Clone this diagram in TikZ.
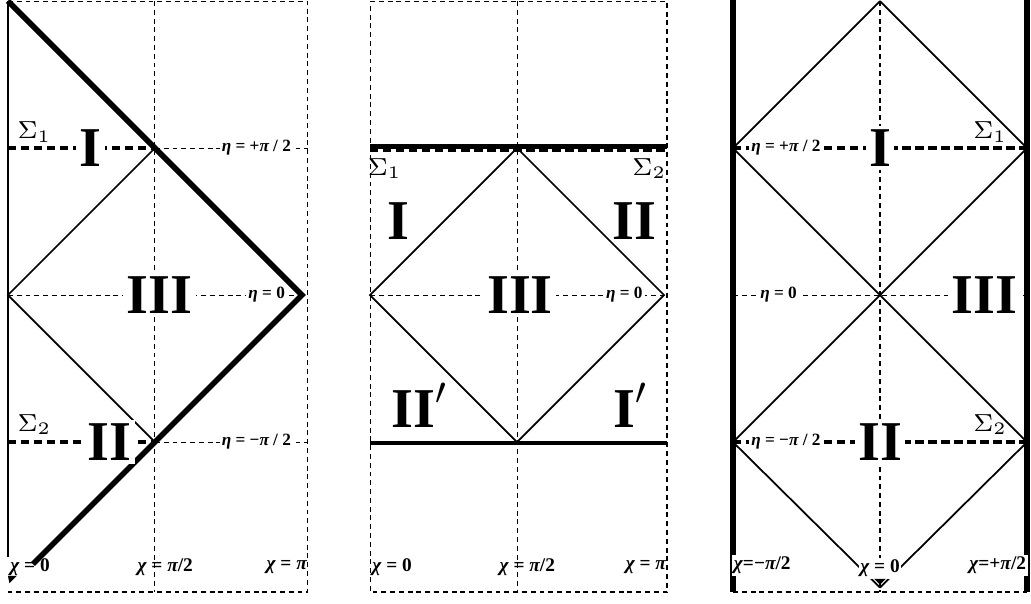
\documentclass[tikz,border=0pt]{standalone}
\usepackage{fontspec}
\setmainfont{Liberation Serif}
\tikzset{
  grid line/.style={line width=0.3pt, dash pattern=on 1.4pt off 1.1pt},
  slice/.style={line width=0.9pt, dash pattern=on 2.4pt off 1.3pt},
  cone/.style={line width=0.5pt},
  wall/.style={line width=1.6pt},
  region/.style={font=\fontsize{16}{16}\selectfont\bfseries, inner sep=1pt},
  cut region/.style={region, fill=white},
  tag/.style={font=\fontsize{4.9}{6}\selectfont\bfseries, fill=white, inner sep=0.6pt},
  chilabel/.style={font=\fontsize{5.5}{6}\selectfont\bfseries, inner sep=0.5pt},
  surf/.style={font=\fontsize{7.5}{8}\selectfont, inner sep=0pt},
}
\newcommand{\etaval}[1]{{\itshape η} = #1}
\newcommand{\chival}[1]{{\itshape χ} = #1}
\newcommand{\gpi}{{\itshape π}}
\begin{document}
\begin{tikzpicture}[x=1.47cm, y=1.47cm]
  \useasboundingbox (-0.054,2.007) rectangle (6.959,-2.095);

  % ---- Left diagram ----
  \begin{scope}
    \coordinate (L1) at (0,0);
    \coordinate (T1) at (1,1);
    \coordinate (R1) at (2,0);
    \coordinate (B1) at (1,-1);
    \coordinate (S1a) at (0,1);
    \coordinate (S2a) at (0,-1);
    \coordinate (start1) at (0,2);
    \coordinate (end1) at (0.17,-1.83);
    % frame and axes
    \draw[grid line] (0,2) -- (2.04,2) -- (2.04,-2.02) -- (0,-2.02);
    \draw[grid line] (1,2) -- (1,-2.02);
    \draw[grid line] (T1) -- (2.04,1);
    \draw[grid line] (B1) -- (2.04,-1);
    \draw[grid line] (L1) -- (R1);
    \node[tag] (eta11) at (1.69,1) {\etaval{+\gpi{} / 2}};
    \node[tag] (eta01) at (1.76,0) {\etaval{0}};
    \node[tag] (eta21) at (1.69,-1) {\etaval{−\gpi{} / 2}};
    \draw[cone] (start1) -- (0,-1.78);
    % light cones
    \draw[cone] (L1) -- (T1) -- (R1) -- (B1) -- cycle;
    % boundary
    \draw[wall] (start1) -- (R1) -- (end1);
    % Cauchy surfaces
    \draw[slice] (S1a) -- (T1);
    \draw[slice] (S2a) -- (B1);
    \node[cut region] (I1) at (0.56,1) {I};
    \node[cut region] (II1) at (0.69,-1) {II};
    \node[cut region] (III1) at (1.03,0) {III};
    \node[surf] (sig11) at (0.18,1.11) {$\Sigma_1$};
    \node[surf] (sig21) at (0.18,-0.88) {$\Sigma_2$};
    \node[chilabel, anchor=west] (chi01) at (0,-1.85) {\chival{0}};
    \node[chilabel] (chi11) at (1.07,-1.85) {\chival{\gpi/2}};
    \node[chilabel, anchor=east] (chi21) at (2.05,-1.85) {\chival{\gpi}};
    \fill (0,-1.91) -- (0.06,-1.91) -- (0.01,-1.96) -- cycle;
  \end{scope}

  % ---- Middle diagram ----
  \begin{scope}[shift={(2.463,0)}]
    \coordinate (L2) at (0,0);
    \coordinate (T2) at (1,1);
    \coordinate (R2) at (2,0);
    \coordinate (B2) at (1,-1);
    \draw[grid line] (0,2) -- (2.02,2) -- (2.02,-2.02) -- (0,-2.02) -- cycle;
    \draw[grid line] (1,2) -- (1,-2.02);
    \draw[grid line] (L2) -- (R2);
    \node[tag] (eta02) at (1.73,0) {\etaval{0}};
    \draw[cone] (L2) -- (T2) -- (R2) -- (B2) -- cycle;
    % surfaces
    \draw[line width=1.5pt] (0,1.01) -- (2.02,1.01);
    \draw[slice] (0,0.985) -- (2.02,0.985);
    \draw[line width=1.2pt] (0,-1.007) -- (2.02,-1.007);
    \node[surf] (sig12) at (0.10,0.86) {$\Sigma_1$};
    \node[surf] (sig22) at (1.90,0.86) {$\Sigma_2$};
    \node[region] (I2) at (0.19,0.5) {I};
    \node[region] (II2) at (1.80,0.5) {II};
    \node[cut region] (III2) at (1.02,0) {III};
    \node[region] (IIp2) at (0.34,-0.75) {II$'$};
    \node[region] (Ip2) at (1.77,-0.75) {I$'$};
    \node[chilabel, anchor=west] (chi02) at (0,-1.85) {\chival{0}};
    \node[chilabel] (chi12) at (1.07,-1.85) {\chival{\gpi/2}};
    \node[chilabel, anchor=east] (chi22) at (2.03,-1.85) {\chival{\gpi}};
  \end{scope}

  % ---- Right diagram ----
  \begin{scope}[shift={(5.932,0)}]
    \coordinate (N3) at (0,2);
    \coordinate (S3) at (0,-1.99);
    \coordinate (W13) at (-1,1);
    \coordinate (E13) at (1,1);
    \coordinate (W23) at (-1,-1);
    \coordinate (E23) at (1,-1);
    \draw[grid line] (-1,-2.02) -- (1,-2.02);
    \draw[grid line] (0,2) -- (0,-2.02);
    \draw[grid line] (-1,0) -- (1,0);
    % Cauchy surfaces
    \draw[slice] (W13) -- (E13);
    \draw[slice] (W23) -- (E23);
    \node[tag] (eta13) at (-0.64,1) {\etaval{+\gpi{} / 2}};
    \node[tag] (eta03) at (-0.69,0) {\etaval{0}};
    \node[tag] (eta23) at (-0.64,-1) {\etaval{−\gpi{} / 2}};
    % walls
    \draw[line width=1.5pt] (-1,2.01) -- (-1,-2.02);
    \draw[line width=1.5pt] (1,2.01) -- (1,-2.02);
    % light cones
    \draw[cone] (N3) -- (W13) -- (E23) -- (S3);
    \draw[cone] (N3) -- (E13) -- (W23) -- (S3);
    \node[cut region] (I3) at (0,1) {I};
    \node[cut region] (II3) at (0,-1) {II};
    \node[cut region] (III3) at (0.71,0) {III};
    \node[surf] (sig13) at (0.75,1.11) {$\Sigma_1$};
    \node[surf] (sig23) at (0.75,-0.88) {$\Sigma_2$};
    \node[chilabel, fill=white, anchor=west] (chi03) at (-1.01,-1.84) {{\itshape χ}=−\gpi/2};
    \node[chilabel, fill=white] (chi13) at (0,-1.86) {\chival{0}};
    \node[chilabel, fill=white, anchor=east] (chi23) at (1.01,-1.84) {{\itshape χ}=+\gpi/2};
    \fill (-0.04,-1.93) -- (0.04,-1.93) -- (0,-1.97) -- cycle;
  \end{scope}
\end{tikzpicture}
\end{document}
